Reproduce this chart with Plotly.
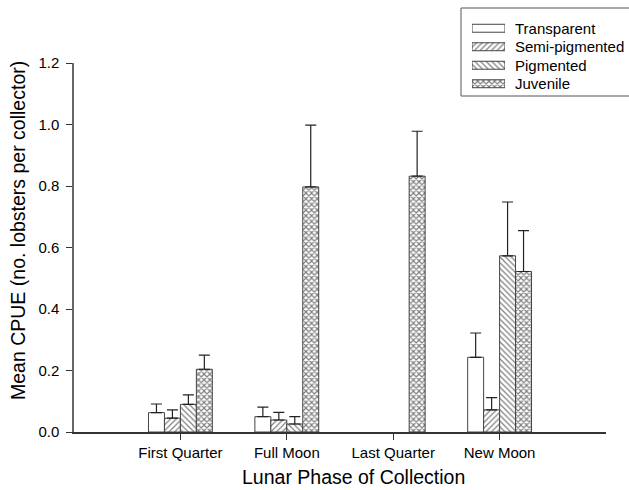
import plotly.graph_objects as go

phases = ["First Quarter", "Full Moon", "Last Quarter", "New Moon"]
stages = ["Transparent", "Semi-pigmented", "Pigmented", "Juvenile"]

# mean CPUE per stage and phase (None = no catch)
transparent = [0.063, 0.050, None, 0.243]
semi_pigmented = [0.045, 0.039, None, 0.072]
pigmented = [0.090, 0.026, None, 0.573]
juvenile = [0.204, 0.797, 0.832, 0.522]

# upper end of the error bar (mean + SE)
transparent_hi = [0.091, 0.081, None, 0.322]
semi_pigmented_hi = [0.072, 0.064, None, 0.112]
pigmented_hi = [0.121, 0.050, None, 0.748]
juvenile_hi = [0.250, 0.998, 0.978, 0.655]

y_ticks = [0.0, 0.2, 0.4, 0.6, 0.8, 1.0, 1.2]

means = [transparent, semi_pigmented, pigmented, juvenile]
uppers = [transparent_hi, semi_pigmented_hi, pigmented_hi, juvenile_hi]
patterns = ["", "/", "\\", "x"]
pattern_sizes = [6, 4, 4, 4]
pattern_solid = [0.2, 0.3, 0.3, 0.5]

W, H = 629, 490
font = "Liberation Sans, Arial, sans-serif"


def px_x(p):
    return p / W


def px_y(p):
    return 1 - p / H


bar_w = 0.15
offsets = [-1.5 * bar_w, -0.5 * bar_w, 0.5 * bar_w, 1.5 * bar_w]


def marker_for(k):
    return dict(
        color="white",
        line=dict(color="#444", width=1),
        pattern=dict(shape=patterns[k], fgcolor="black", bgcolor="white",
                     size=pattern_sizes[k], solidity=pattern_solid[k]),
    )


fig = go.Figure()
for k, stage in enumerate(stages):
    xs, ys, plus = [], [], []
    for i in range(len(phases)):
        v = means[k][i]
        if v is None:
            continue
        xs.append(i + offsets[k])
        ys.append(v)
        plus.append(uppers[k][i] - v)
    fig.add_trace(go.Bar(
        x=xs, y=ys, name=stage, width=bar_w, showlegend=False,
        marker=marker_for(k),
        error_y=dict(type="data", symmetric=False, array=plus,
                     arrayminus=[0] * len(plus), color="#222",
                     thickness=1.2, width=5.5),
    ))

# legend key: one horizontal swatch per stage on its own small axes
for k, stage in enumerate(stages):
    fig.add_trace(go.Bar(
        x=[1], y=[k], base=[0], orientation="h", width=0.43,
        marker=marker_for(k), showlegend=False, hoverinfo="skip",
        xaxis="x2", yaxis="y2",
    ))

annotations = []
row_top, row_bottom = 19, 93
row_h = (row_bottom - row_top) / len(stages)
for k, stage in enumerate(stages):
    cy = row_top + row_h * (k + 0.5)
    annotations.append(dict(
        text=stage, x=px_x(513), y=px_y(cy), xref="paper", yref="paper",
        xanchor="left", yanchor="middle", showarrow=False,
        font=dict(family=font, size=15, color="black"),
    ))

# axis titles
annotations.append(dict(
    text="Lunar Phase of Collection", x=px_x(353), y=px_y(477),
    xref="paper", yref="paper", xanchor="center", yanchor="middle",
    showarrow=False, font=dict(family=font, size=19.5, color="black"),
))
annotations.append(dict(
    text="Mean CPUE (no. lobsters per collector)", x=px_x(18), y=px_y(231),
    xref="paper", yref="paper", xanchor="center", yanchor="middle",
    textangle=-90, showarrow=False,
    font=dict(family=font, size=19.5, color="black"),
))

fig.update_layout(
    width=W, height=H,
    margin=dict(l=0, r=0, t=0, b=0),
    paper_bgcolor="white", plot_bgcolor="white",
    barmode="overlay",
    showlegend=False,
    font=dict(family=font, size=15, color="black"),
    annotations=annotations,
    shapes=[dict(
        type="rect", xref="paper", yref="paper",
        x0=px_x(461), x1=px_x(660), y0=px_y(96), y1=px_y(8),
        line=dict(color="#555", width=1), fillcolor="rgba(0,0,0,0)",
        layer="below",
    )],
    xaxis=dict(
        domain=[px_x(74), px_x(606)],
        range=[-1, 4], tickmode="array", tickvals=list(range(len(phases))),
        ticktext=phases, ticks="outside", ticklen=6, tickcolor="#333",
        showline=True, linecolor="#333", linewidth=1.5,
        showgrid=False, zeroline=False, automargin=False,
        tickfont=dict(family=font, size=15),
    ),
    yaxis=dict(
        domain=[px_y(432), px_y(63)],
        range=[0, 1.2], tickmode="array", tickvals=y_ticks,
        ticktext=[f"{t:.1f}" for t in y_ticks],
        ticks="outside", ticklen=6, tickcolor="#333",
        showline=True, linecolor="#666", linewidth=1.5,
        showgrid=False, zeroline=False, automargin=False,
        ticklabelstandoff=4,
        tickfont=dict(family=font, size=15),
    ),
    xaxis2=dict(
        domain=[px_x(472), px_x(505)], range=[0, 1], anchor="y2",
        visible=False, fixedrange=True,
    ),
    yaxis2=dict(
        domain=[px_y(row_bottom), px_y(row_top)],
        range=[len(stages) - 0.5, -0.5], anchor="x2",
        visible=False, fixedrange=True,
    ),
)

fig.write_html("out.html")
